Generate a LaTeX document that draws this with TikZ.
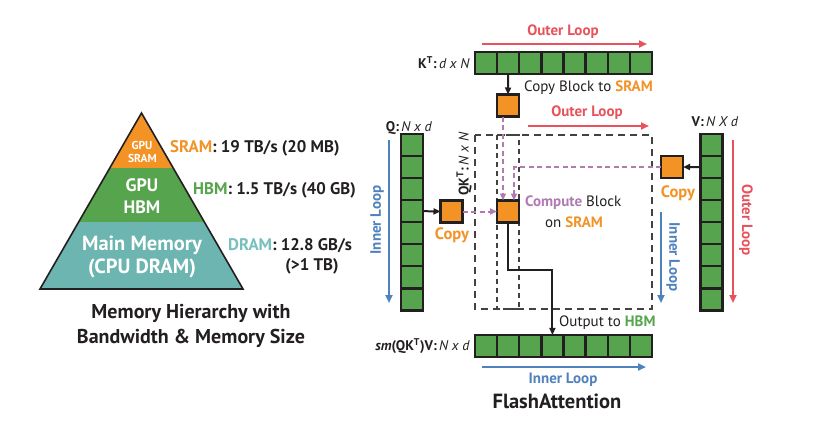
\documentclass[tikz,border=0pt]{standalone}
\usepackage{fontspec}
\setmainfont{PT Sans}
\usetikzlibrary{arrows.meta,calc}
\definecolor{cOr}{RGB}{243,146,37}
\definecolor{cGr}{RGB}{86,164,77}
\definecolor{cTeal}{RGB}{108,181,176}
\definecolor{cTealT}{RGB}{120,192,188}
\definecolor{cRed}{RGB}{232,82,92}
\definecolor{cBlue}{RGB}{79,129,189}
\definecolor{cPur}{RGB}{176,122,178}
\definecolor{cTxt}{RGB}{35,31,32}
\begin{document}
\begin{tikzpicture}[x=1pt,y=-1pt,
  cell/.style={draw=cTxt,line width=2.4pt,fill=cGr,minimum size=22.1pt,inner sep=0pt,outer sep=0pt},
  blk/.style={draw=cTxt,line width=2.4pt,fill=cOr,minimum size=22pt,inner sep=0pt,outer sep=0pt},
  lab/.style={text=cTxt,inner sep=0pt,font=\fontsize{14}{16}\selectfont},
  txt/.style={text=cTxt,inner sep=0pt,font=\fontsize{15}{17}\selectfont},
  btxt/.style={txt,font=\fontsize{15}{17}\selectfont\bfseries},
  redloop/.style={draw=cRed,line width=2pt,-{Triangle[length=8pt,width=7pt]}},
  blueloop/.style={draw=cBlue,line width=2pt,-{Triangle[length=8pt,width=7pt]}},
  blkarrow/.style={draw=cTxt,line width=2pt,-{Triangle[length=7pt,width=6pt]}},
  purarrow/.style={draw=cPur,line width=2pt,dash pattern=on 5pt off 3.5pt,-{Triangle[length=7pt,width=6pt]}},
  bigdash/.style={draw=cTxt!85,line width=1.3pt,dash pattern=on 7pt off 5pt},
  smalldash/.style={draw=cTxt!85,line width=1.3pt,dash pattern=on 5pt off 4pt},
  pyrlab/.style={text=white,inner sep=0pt,font=\bfseries},
]
\useasboundingbox (0,0) rectangle (820,434);
\fill[white] (0,0) rectangle (820,434);

% ---------------- Pyramid ----------------
\coordinate (apex) at (141.5,113);
\coordinate (bl) at (40,289);
\coordinate (br) at (243,289);
\begin{scope}
  \clip (apex) -- (br) -- (bl) -- cycle;
  \fill[cOr] (0,100) rectangle (300,168);
  \fill[cGr] (0,168) rectangle (300,221.5);
  \fill[cTeal] (0,221.5) rectangle (300,295);
\end{scope}
\draw[cTxt,line width=1.6pt,line join=miter] (apex) -- (br) -- (bl) -- cycle;

\node[pyrlab,font=\fontsize{11.5}{12}\selectfont\bfseries] (p1a) at (142,145.5) {GPU};
\node[pyrlab,font=\fontsize{11.5}{12}\selectfont\bfseries] (p1b) at (142.5,158.5) {SRAM};
\node[pyrlab,font=\fontsize{18}{19}\selectfont\bfseries] (p2a) at (142,185) {GPU};
\node[pyrlab,font=\fontsize{18}{19}\selectfont\bfseries] (p2b) at (142,207) {HBM};
\node[pyrlab,font=\fontsize{20.5}{22}\selectfont\bfseries] (p3a) at (142,245) {Main Memory};
\node[pyrlab,font=\fontsize{20.5}{22}\selectfont\bfseries] (p3b) at (142,268) {(CPU DRAM)};

\node[btxt,anchor=west,font=\fontsize{16.8}{18}\selectfont\bfseries] (ls) at (170,148) {\textcolor{cOr}{SRAM}: 19 TB/s (20 MB)};
\node[btxt,anchor=west,font=\fontsize{16.8}{18}\selectfont\bfseries] (lh) at (193,190) {\textcolor{cGr}{HBM}: 1.5 TB/s (40 GB)};
\node[btxt,anchor=west,font=\fontsize{16.8}{18}\selectfont\bfseries] (ld) at (228,246) {\textcolor{cTealT}{DRAM}: 12.8 GB/s};
\node[btxt,font=\fontsize{16.8}{18}\selectfont\bfseries] (ld2) at (312,266) {(>1 TB)};

\node[btxt,font=\fontsize{20}{22}\selectfont\bfseries] (cap1) at (191,313) {Memory Hierarchy with};
\node[btxt,font=\fontsize{20}{22}\selectfont\bfseries] (cap2) at (191,338) {Bandwidth \& Memory Size};

% ---------------- FlashAttention ----------------
\draw[bigdash] (475,135) rectangle (652,309);
\draw[smalldash] (497,135) rectangle (519,309);

\foreach \i in {1,...,8}{
  \node[cell] (k\i) at ({486.06+22.125*(\i-1)},63) {};
  \node[cell] (o\i) at ({486.06+22.125*(\i-1)},346) {};
  \node[cell] (q\i) at (412,{145+22.05*(\i-1)}) {};
  \node[cell] (v\i) at (711.5,{145+22.05*(\i-1)}) {};
}

\node[blk] (kc) at (508,105.5) {};
\node[blk] (qc) at (451.5,211.5) {};
\node[blk] (vc) at (672,167) {};
\node[blk] (comp) at (508,211.5) {};

% black arrows
\draw[blkarrow] (k2.south) -- (kc.north);
\draw[blkarrow] (q4.east) -- (qc.west);
\draw[blkarrow] (v2.west) -- (vc.east);
\coordinate (bend1) at (508,270);
\draw[blkarrow,line join=miter] (comp.south) -- (bend1) -| (o4.north);

% purple dashed arrows
\draw[purarrow] ([xshift=-5pt]kc.south) -- ([xshift=-5pt]comp.north);
\draw[purarrow] (vc.west) -| ([xshift=6pt]comp.north);
\draw[purarrow] (qc.east) -- (comp.west);

% loop arrows
\coordinate (ol1s) at (482,44); \coordinate (ol1e) at (647,44);
\coordinate (ol2s) at (528,126); \coordinate (ol2e) at (649,126);
\coordinate (il1s) at (389,140); \coordinate (il1e) at (389,303);
\coordinate (il2s) at (661,212); \coordinate (il2e) at (661,303);
\coordinate (ol3s) at (733,140); \coordinate (ol3e) at (733,303);
\coordinate (il3s) at (482,367); \coordinate (il3e) at (646,367);
\draw[redloop] (ol1s) -- (ol1e);
\draw[redloop] (ol2s) -- (ol2e);
\draw[redloop] (ol3s) -- (ol3e);
\draw[blueloop] (il1s) -- (il1e);
\draw[blueloop] (il2s) -- (il2e);
\draw[blueloop] (il3s) -- (il3e);

% labels
\node[btxt,text=cRed] (tol1) at (563,32) {Outer Loop};
\node[btxt,text=cRed] (tol2) at (587,113) {Outer Loop};
\node[btxt,text=cRed,rotate=-90] (tol3) at (746,220) {Outer Loop};
\node[btxt,text=cBlue,rotate=90] (til1) at (377,220) {Inner Loop};
\node[btxt,text=cBlue,rotate=-90] (til2) at (673,257) {Inner Loop};
\node[btxt,text=cBlue] (til3) at (563,380) {Inner Loop};

\node[txt,anchor=west] (tcb) at (524,88) {Copy Block to \textbf{\textcolor{cOr}{SRAM}}};
\node[lab,anchor=east] (tk) at (470,63) {\textbf{K\textsuperscript{T}:}\,\textit{d x N}};
\node[lab] (tq) at (409,128) {\textbf{Q:}\,\textit{N x d}};
\node[lab] (tv) at (715,122) {\textbf{V:}\,\textit{N X d}};
\node[lab,rotate=90] (tqk) at (464,164) {\textbf{QK\textsuperscript{T}:}\,\textit{N x N}};
\node[btxt,text=cOr,font=\fontsize{16.5}{18}\selectfont\bfseries] (tc1) at (452,235) {Copy};
\node[btxt,text=cOr,font=\fontsize{16.5}{18}\selectfont\bfseries] (tc2) at (678,193) {Copy};
\node[txt,anchor=west] (tcomp) at (525,203) {\textbf{\textcolor{cPur}{Compute}} Block};
\node[txt] (ton) at (574,222) {on \textbf{\textcolor{cOr}{SRAM}}};
\node[txt,anchor=west] (tout) at (559,323) {Output to \textbf{\textcolor{cGr}{HBM}}};
\node[lab,anchor=east] (tsm) at (470,346) {\textbf{\textit{sm}(QK\textsuperscript{T})V:}\,\textit{N x d}};
\node[btxt,font=\fontsize{20.5}{22}\selectfont\bfseries] (tfa) at (557,401) {FlashAttention};
\end{tikzpicture}
\end{document}
